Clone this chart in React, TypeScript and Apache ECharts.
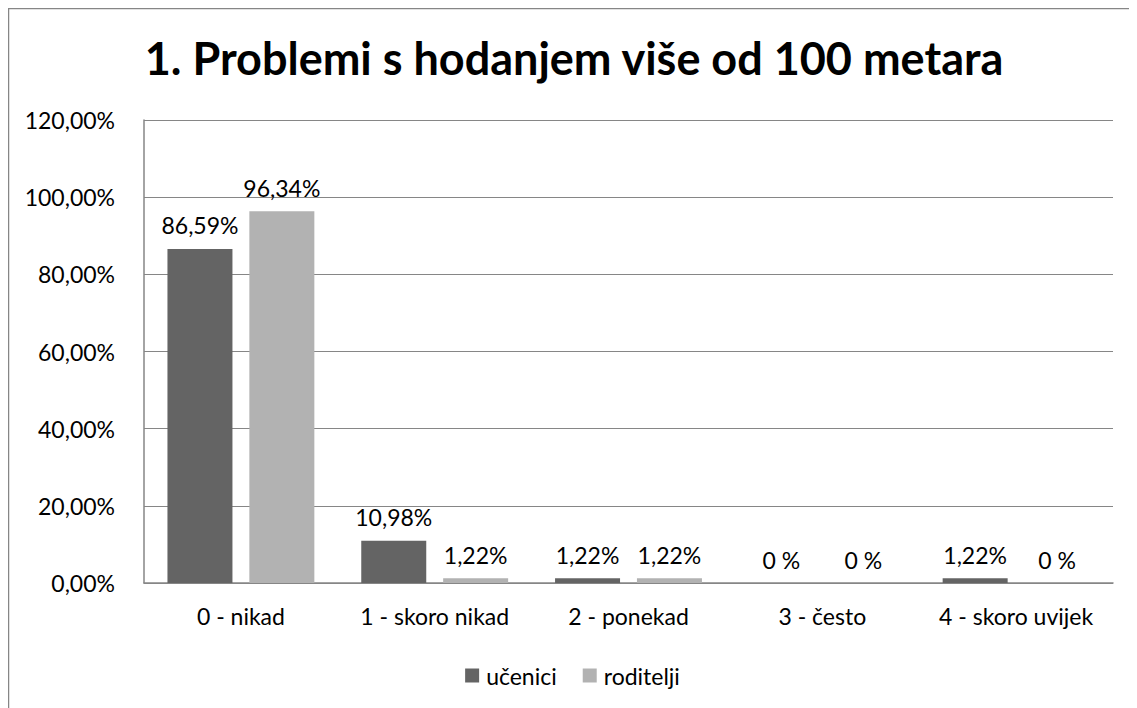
import React, { useEffect, useRef } from "react";
import * as echarts from "echarts";

const categories = ["0 - nikad", "1 - skoro nikad", "2 - ponekad", "3 - često", "4 - skoro uvijek"];
const ucenici = [86.59, 10.98, 1.22, 0, 1.22];
const roditelji = [96.34, 1.22, 1.22, 0, 0];
const seriesNames = ["učenici", "roditelji"];
const titleText = "1. Problemi s hodanjem više od 100 metara";

const FONT = "Lato";
const FS = 23;

const fmtPct = (v: number) => (v === 0 ? "0 %" : v.toFixed(2).replace(".", ",") + "%");
const fmtAxis = (v: number) => v.toFixed(2).replace(".", ",") + "%";

export default function App() {
  const ref = useRef<HTMLDivElement>(null);
  useEffect(() => {
    if (!ref.current) return;
    const chart = echarts.init(ref.current, undefined, { renderer: "svg" });
    const label = {
      show: true,
      position: "top" as const,
      distance: 12,
      color: "#000",
      fontFamily: FONT,
      fontSize: FS,
      formatter: (p: any) => fmtPct(p.value),
    };
    chart.setOption({
      animation: false,
      backgroundColor: "#fff",
      title: {
        text: titleText,
        left: 561,
        textAlign: "center",
        top: 22,
        textStyle: { fontFamily: FONT, fontWeight: "bold", fontSize: 45, color: "#000" },
      },
      graphic: [
        { type: "line", shape: { x1: 0.5, y1: 0, x2: 0.5, y2: 700 }, style: { stroke: "#868686", lineWidth: 1.5 } },
        { type: "line", shape: { x1: 0, y1: 0.5, x2: 1129, y2: 0.5 }, style: { stroke: "#868686", lineWidth: 1.5 } },
      ],
      legend: {
        top: 651,
        left: "center",
        itemWidth: 14,
        itemHeight: 14,
        itemGap: 26,
        icon: "rect",
        data: seriesNames,
        textStyle: { fontFamily: FONT, fontSize: FS, color: "#000", padding: [0, 0, 0, 2] },
      },
      grid: { left: 136, right: 24, top: 112, bottom: 125 },
      xAxis: {
        type: "category",
        data: categories,
        axisTick: { show: false },
        axisLine: { lineStyle: { color: "#868686", width: 1.5 } },
        axisLabel: { fontFamily: FONT, fontSize: FS, color: "#000", margin: 21, interval: 0 },
      },
      yAxis: {
        type: "value",
        min: 0,
        max: 120,
        interval: 20,
        axisLine: { show: true, lineStyle: { color: "#868686", width: 1.5 } },
        axisTick: { show: false },
        splitLine: { lineStyle: { color: "#868686", width: 1 } },
        axisLabel: { fontFamily: FONT, fontSize: FS, color: "#000", margin: 29, formatter: fmtAxis },
      },
      series: [
        { name: seriesNames[0], type: "bar", data: ucenici, barWidth: 65, barGap: "26%", itemStyle: { color: "#646464" }, label },
        { name: seriesNames[1], type: "bar", data: roditelji, barWidth: 65, barGap: "26%", itemStyle: { color: "#b2b2b2" }, label },
      ],
    });
    return () => chart.dispose();
  }, []);
  return <div ref={ref} style={{ width: 1129, height: 700 }} />;
}
